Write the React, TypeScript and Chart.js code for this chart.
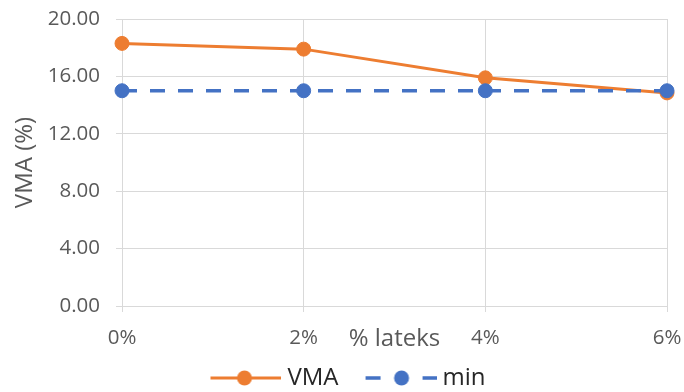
import { useEffect, useRef } from "react";
import { Chart, registerables } from "chart.js";

Chart.register(...registerables);

// Data
const categories = ["0%", "2%", "4%", "6%"];
const vmaValues = [18.3, 17.9, 15.9, 14.85];
const minValues = [15, 15, 15, 15];
const yMin = 0;
const yMax = 20;
const yStep = 4;

const ORANGE = "#ED7D31";
const BLUE = "#4472C4";
const GRID = "#D9D9D9";
const TEXT = "#595959";
const FONT = "'Open Sans', 'DejaVu Sans', sans-serif";

// Legend symbol box: 71px wide symbol placed at the right of a 96px canvas
const SYMBOL_W = 71;
const SYMBOL_CANVAS_W = 96;
const LEGEND_BOX_W = 84;

function makeLegendSymbol(color: string, dashed: boolean): HTMLCanvasElement {
  const c = document.createElement("canvas");
  c.width = SYMBOL_CANVAS_W;
  c.height = 18;
  const g = c.getContext("2d")!;
  const x0 = SYMBOL_CANVAS_W - SYMBOL_W;
  const cy = 9;
  g.strokeStyle = color;
  g.fillStyle = color;
  if (dashed) {
    g.lineWidth = 3.5;
    g.beginPath();
    g.moveTo(x0, cy);
    g.lineTo(x0 + 15, cy);
    g.moveTo(x0 + 57, cy);
    g.lineTo(x0 + 71, cy);
    g.stroke();
    g.beginPath();
    g.arc(x0 + 36, cy, 7.5, 0, Math.PI * 2);
    g.fill();
  } else {
    g.lineWidth = 3;
    g.beginPath();
    g.moveTo(x0, cy);
    g.lineTo(x0 + 71, cy);
    g.stroke();
    g.beginPath();
    g.arc(x0 + 34, cy, 7.5, 0, Math.PI * 2);
    g.fill();
  }
  return c;
}

export default function App() {
  const canvasRef = useRef<HTMLCanvasElement | null>(null);

  useEffect(() => {
    if (!canvasRef.current) return;
    const symbols = [makeLegendSymbol(ORANGE, false), makeLegendSymbol(BLUE, true)];

    const chart = new Chart(canvasRef.current, {
      type: "line",
      data: {
        labels: categories,
        datasets: [
          {
            label: "VMA",
            data: vmaValues,
            borderColor: ORANGE,
            backgroundColor: ORANGE,
            borderWidth: 3,
            pointRadius: 7,
            pointBorderWidth: 1,
            pointBackgroundColor: ORANGE,
            pointBorderColor: ORANGE,
            tension: 0,
            order: 1,
          },
          {
            label: "min",
            data: minValues,
            borderColor: BLUE,
            backgroundColor: BLUE,
            borderWidth: 3.5,
            borderDash: [15, 13],
            pointRadius: 7,
            pointBorderWidth: 1,
            pointBackgroundColor: BLUE,
            pointBorderColor: BLUE,
            tension: 0,
            order: 0,
          },
        ],
      },
      options: {
        animation: false,
        responsive: false,
        maintainAspectRatio: false,
        layout: { padding: { top: 19, left: 10, right: 17, bottom: -8 } },
        scales: {
          x: {
            offset: false,
            grid: { color: GRID, lineWidth: 1, tickLength: 6, tickColor: GRID },
            border: { color: GRID },
            ticks: {
              color: TEXT,
              padding: 13.5,
              font: { family: FONT, size: 20.5 },
              maxRotation: 0,
            },
            title: {
              display: true,
              text: "% lateks",
              color: TEXT,
              font: { family: FONT, size: 24 },
              padding: { top: 0, bottom: 4.6 },
            },
            afterFit: (scale: any) => {
              scale.height = 52;
              scale.paddingLeft = 0;
              scale.paddingRight = 0;
            },
          },
          y: {
            min: yMin,
            max: yMax,
            grid: { color: GRID, lineWidth: 1, tickLength: 6, tickColor: GRID },
            border: { color: GRID },
            ticks: {
              stepSize: yStep,
              color: TEXT,
              padding: 16,
              font: { family: FONT, size: 20.5 },
              callback: (v: any) => Number(v).toFixed(2),
            },
            title: {
              display: true,
              text: "VMA (%)",
              color: TEXT,
              font: { family: FONT, size: 24 },
              padding: { top: 0.6, bottom: 0 },
            },
            afterFit: (scale: any) => {
              scale.width = 112;
              scale.paddingTop = 0;
              scale.paddingBottom = 0;
            },
          },
        },
        plugins: {
          tooltip: { enabled: false },
          legend: {
            position: "bottom",
            labels: {
              usePointStyle: true,
              pointStyleWidth: LEGEND_BOX_W,
              boxHeight: 18,
              padding: 8,
              color: "#262626",
              font: { family: FONT, size: 24 },
              sort: (a: any, b: any) => a.datasetIndex - b.datasetIndex,
              generateLabels: (ch: any) => {
                const items = Chart.defaults.plugins.legend.labels.generateLabels(ch);
                return items.map((it: any) => ({
                  ...it,
                  pointStyle: symbols[it.datasetIndex],
                  rotation: 0,
                }));
              },
            },
          },
        },
      },
    });

    return () => chart.destroy();
  }, []);

  return (
    <div style={{ position: "fixed", left: 0, top: 0, width: 684, height: 392, background: "#fff" }}>
      <canvas ref={canvasRef} width={684} height={392} style={{ width: 684, height: 392 }} />
    </div>
  );
}
